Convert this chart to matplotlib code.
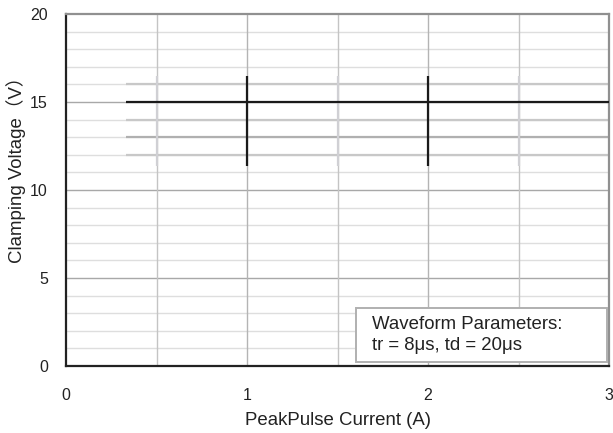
import matplotlib

matplotlib.use("Agg")
import matplotlib.pyplot as plt
from matplotlib.patches import Rectangle

plt.rcParams["font.family"] = ["Liberation Sans", "Noto Sans CJK SC", "DejaVu Sans"]

# Clamping-voltage trace: level (V) and span of current (A)
x_start = 0.33
x_end = 3.0
clamp_level = 15.0
band_levels = [16.0, 14.0, 13.0, 12.0]

# Vertical markers at the measured currents
marker_x_main = [1.0, 2.0]
marker_x_light = [0.5, 1.5, 2.5]
marker_low = 11.35
marker_high = 16.45

x_ticks = [0, 1, 2, 3]
y_ticks = [0, 5, 10, 15, 20]

fig = plt.figure(figsize=(6.13, 4.33), dpi=100)
ax = fig.add_axes([0.1077, 0.1547, 0.8858, 0.813])

ax.set_xlim(0, 3)
ax.set_ylim(0, 20)

# grid
for y in range(1, 20):
    ax.axhline(y, color="#a8a8a8" if y % 5 == 0 else "#dedede", linewidth=1.0, zorder=0)
for x in [0.5, 1.0, 1.5, 2.0, 2.5]:
    ax.axvline(x, color="#b4b4b4" if x % 1 == 0 else "#c4c4c4", linewidth=1.0, zorder=0)

# band lines
for lv in band_levels:
    ax.plot([x_start, x_end], [lv, lv], color="#b0b0b0" if lv == 13.0 else "#c8c8c8",
            linewidth=1.6, zorder=1, solid_capstyle="butt")
for x in marker_x_light:
    ax.plot([x, x], [marker_low, marker_high], color="#d0d0d4", linewidth=1.6, zorder=1,
            solid_capstyle="butt")

ax.plot([x_start, x_end], [clamp_level, clamp_level], color="#1a1a1a", linewidth=1.6,
        zorder=3, solid_capstyle="butt")
for x in marker_x_main:
    ax.plot([x, x], [marker_low, marker_high], color="#1a1a1a", linewidth=1.6, zorder=3,
            solid_capstyle="butt")

ax.set_xticks(x_ticks)
ax.set_yticks(y_ticks)
ax.tick_params(length=0, labelsize=11.5, colors="#222222")
ax.tick_params(axis="x", pad=16)
ax.tick_params(axis="y", pad=13)

for side in ["left", "bottom"]:
    ax.spines[side].set_color("#222222")
    ax.spines[side].set_linewidth(1.6)
for side in ["top", "right"]:
    ax.spines[side].set_color("#909090")
    ax.spines[side].set_linewidth(1.6)

ax.set_xlabel("PeakPulse Current (A)", fontsize=13.4, color="#222222", labelpad=6.5)
ax.set_ylabel("Clamping Voltage（V）", fontsize=13.4, color="#222222")
ax.yaxis.set_label_coords(-0.074, 0.571)

# parameter box
ax.add_patch(Rectangle((1.6, 0.23), 1.39, 3.07, facecolor="white", edgecolor="#b0b0b0",
                       linewidth=1.4, zorder=4))
ax.text(1.69, 1.75, "Waveform Parameters:\ntr = 8μs, td = 20μs", fontsize=13.4,
        color="#222222", va="center", ha="left", linespacing=1.3, zorder=5)

fig.savefig("out.png", dpi=100)
